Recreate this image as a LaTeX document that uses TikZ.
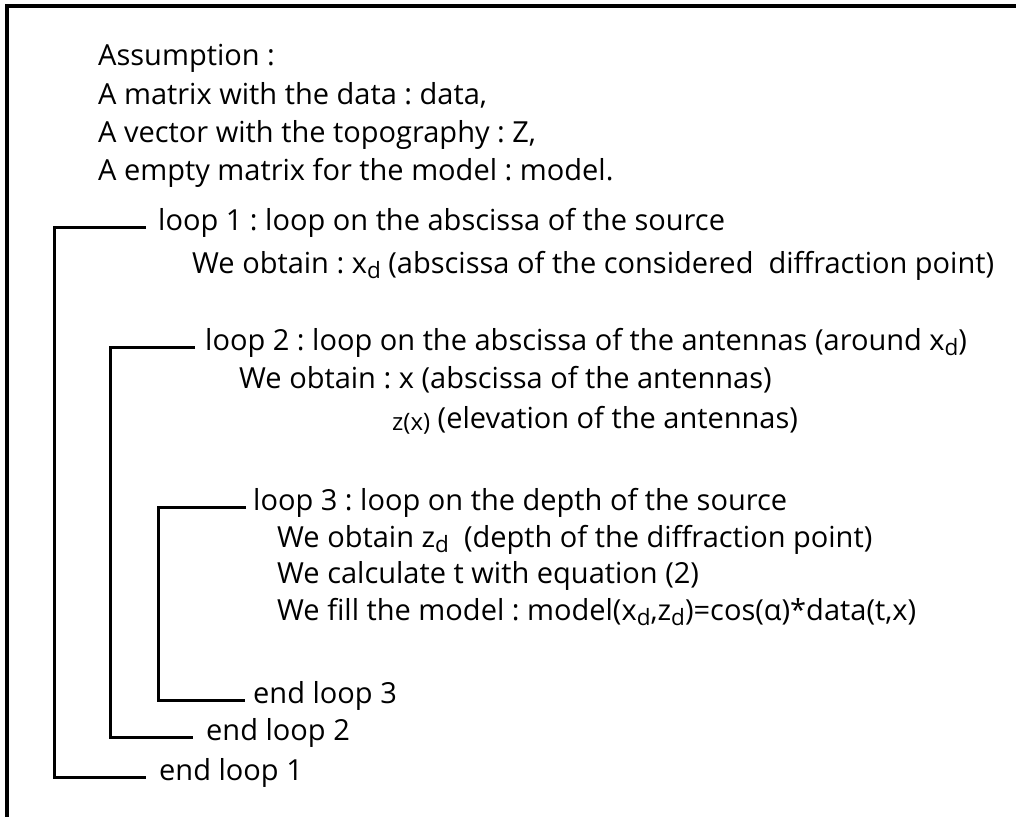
\documentclass[tikz,border=0pt]{standalone}
\usepackage{fontspec}
\setmainfont{Open Sans}
\frenchspacing
\newcommand\sbd{\raisebox{-5pt}{\fontsize{22.5}{22}\selectfont d}}
\newcommand\smallzx{\raisebox{-2pt}{\fontsize{24}{24}\selectfont z(x)}}
\begin{document}
\begin{tikzpicture}[x=1pt,y=-1pt,
  txt/.style={anchor=base west, inner sep=0pt, font=\fontsize{29}{35}\selectfont},
  bracket/.style={line width=3pt},
  frame/.style={line width=4pt}]
\useasboundingbox (0,0) rectangle (1016,816);
\fill[white] (0,0) rectangle (1016,816);
\draw[frame] (7,830) -- (7,6) -- (1030,6);
% assumption block
\node[txt] (a0) at (98,65) {Assumption :};
\node[txt] (a1) at (98,104) {A matrix with the data : data,};
\node[txt] (a2) at (98,142) {A vector with the topography : Z,};
\node[txt] (a3) at (98,180) {A empty matrix for the model : model.};
% loop 1
\node[txt] (l1) at (158,230) {loop 1 : loop on the abscissa of the source};
\node[txt] (o1) at (192,273) {We obtain : x\sbd{} (abscissa of the considered\ \ diffraction point)};
% loop 2
\node[txt] (l2) at (205,350) {loop 2 : loop on the abscissa of the antennas (around x\sbd)};
\node[txt] (o2) at (239,388) {We obtain : x (abscissa of the antennas)};
\node[txt] (o2b) at (392,428) {\smallzx{} (elevation of the antennas)};
% loop 3
\node[txt] (l3) at (253,510) {loop 3 : loop on the depth of the source};
\node[txt] (o3) at (277,547) {We obtain z\sbd\ \ (depth of the diffraction point)};
\node[txt] (c3) at (277,583) {We calculate t with equation (2)};
\node[txt] (f3) at (277,620) {We fill the model : model(x\sbd,z\sbd)=cos(α)*data(t,x)};
% ends
\node[txt] (e3) at (253,703) {end loop 3};
\node[txt] (e2) at (206,740) {end loop 2};
\node[txt] (e1) at (159,780) {end loop 1};
% brackets
\coordinate (v1) at (54.5,500);
\coordinate (v2) at (110,540);
\coordinate (v3) at (158,600);
\draw[bracket] ([xshift=-12pt]l1.mid west) -| (v1) |- ([xshift=-13pt]e1.mid west);
\draw[bracket] ([xshift=-10pt]l2.mid west) -| (v2) |- ([xshift=-13pt]e2.mid west);
\draw[bracket] ([xshift=-7pt]l3.mid west) -| (v3) |- ([xshift=-8pt]e3.mid west);
\end{tikzpicture}
\end{document}
